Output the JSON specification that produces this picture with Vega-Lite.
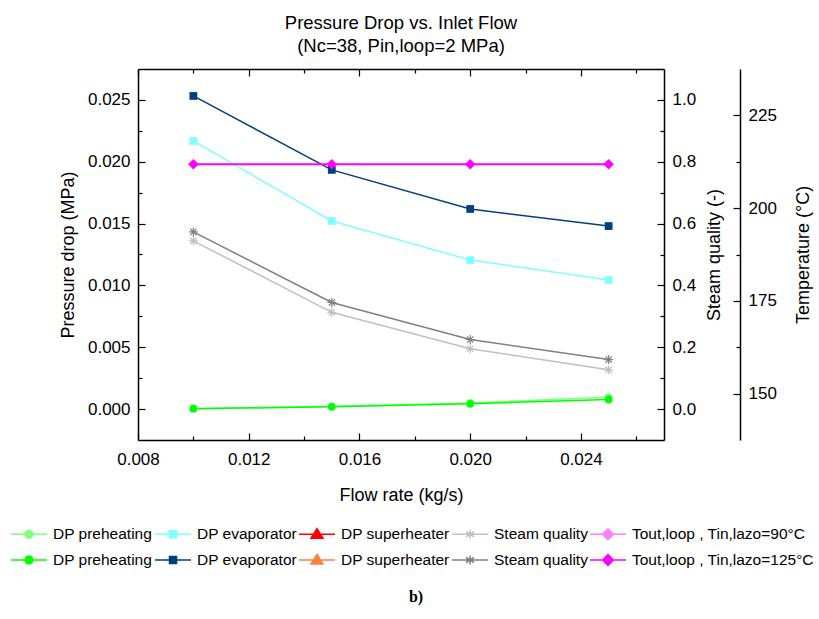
{
  "$schema": "https://vega.github.io/schema/vega-lite/v6.json",
  "autosize": "none",
  "padding": {"left": 138, "top": 69, "right": 155, "bottom": 179},
  "width": 526,
  "height": 371,
  "background": "white",
  "title": {
    "text": "Pressure Drop vs. Inlet Flow",
    "subtitle": "(Nc=38, Pin,loop=2 MPa)",
    "anchor": "middle",
    "font": "Liberation Sans",
    "fontSize": 18.5,
    "fontWeight": "normal",
    "subtitleFont": "Liberation Sans",
    "subtitleFontSize": 18.5,
    "subtitleColor": "black",
    "subtitlePadding": 4,
    "offset": 13,
    "color": "black"
  },
  "config": {
    "view": {"stroke": null},
    "axis": {
      "labelFont": "Liberation Sans",
      "labelFontSize": 17,
      "labelColor": "black",
      "titleFont": "Liberation Sans",
      "titleFontSize": 18,
      "titleFontWeight": "normal",
      "titleColor": "black",
      "domainColor": "black",
      "domainWidth": 1.5,
      "tickColor": "black",
      "tickWidth": 1.2,
      "grid": false
    }
  },
  "data": {
    "values": [
      {"flow": 0.010, "value": 0.00005, "series": "DP preheating|90", "group": "DP"},
      {"flow": 0.015, "value": 0.00022, "series": "DP preheating|90", "group": "DP"},
      {"flow": 0.020, "value": 0.00050, "series": "DP preheating|90", "group": "DP"},
      {"flow": 0.025, "value": 0.00096, "series": "DP preheating|90", "group": "DP"},
      {"flow": 0.010, "value": 0.00003, "series": "DP preheating|125", "group": "DP"},
      {"flow": 0.015, "value": 0.00018, "series": "DP preheating|125", "group": "DP"},
      {"flow": 0.020, "value": 0.00043, "series": "DP preheating|125", "group": "DP"},
      {"flow": 0.025, "value": 0.00078, "series": "DP preheating|125", "group": "DP"},
      {"flow": 0.010, "value": 0.02168, "series": "DP evaporator|90", "group": "DP"},
      {"flow": 0.015, "value": 0.01521, "series": "DP evaporator|90", "group": "DP"},
      {"flow": 0.020, "value": 0.01205, "series": "DP evaporator|90", "group": "DP"},
      {"flow": 0.025, "value": 0.01044, "series": "DP evaporator|90", "group": "DP"},
      {"flow": 0.010, "value": 0.02532, "series": "DP evaporator|125", "group": "DP"},
      {"flow": 0.015, "value": 0.01934, "series": "DP evaporator|125", "group": "DP"},
      {"flow": 0.020, "value": 0.01618, "series": "DP evaporator|125", "group": "DP"},
      {"flow": 0.025, "value": 0.01480, "series": "DP evaporator|125", "group": "DP"},
      {"flow": 0.010, "value": 0.544, "series": "Steam quality|90", "group": "SQ"},
      {"flow": 0.015, "value": 0.313, "series": "Steam quality|90", "group": "SQ"},
      {"flow": 0.020, "value": 0.195, "series": "Steam quality|90", "group": "SQ"},
      {"flow": 0.025, "value": 0.127, "series": "Steam quality|90", "group": "SQ"},
      {"flow": 0.010, "value": 0.573, "series": "Steam quality|125", "group": "SQ"},
      {"flow": 0.015, "value": 0.345, "series": "Steam quality|125", "group": "SQ"},
      {"flow": 0.020, "value": 0.225, "series": "Steam quality|125", "group": "SQ"},
      {"flow": 0.025, "value": 0.160, "series": "Steam quality|125", "group": "SQ"},
      {"flow": 0.010, "value": 211.8, "series": "Tout,loop , Tin,lazo=125°C|125", "group": "T"},
      {"flow": 0.015, "value": 211.8, "series": "Tout,loop , Tin,lazo=125°C|125", "group": "T"},
      {"flow": 0.020, "value": 211.8, "series": "Tout,loop , Tin,lazo=125°C|125", "group": "T"},
      {"flow": 0.025, "value": 211.8, "series": "Tout,loop , Tin,lazo=125°C|125", "group": "T"}
    ]
  },
  "resolve": {"scale": {"y": "independent"}, "axis": {"x": "independent"}},
  "layer": [
    {
      "transform": [{"filter": "datum.group === 'DP'"}],
      "encoding": {
        "x": {
          "field": "flow", "type": "quantitative",
          "scale": {"domain": [0.008, 0.027], "nice": false, "zero": false},
          "axis": {
            "title": "Flow rate (kg/s)",
            "orient": "bottom",
            "values": [0.008, 0.010, 0.012, 0.014, 0.016, 0.018, 0.020, 0.022, 0.024, 0.026],
            "labelExpr": "abs(datum.value*250 - round(datum.value*250)) < 0.001 ? format(datum.value, '.3f') : ''",
            "tickSize": {"condition": {"test": "abs(datum.value*250 - round(datum.value*250)) < 0.001", "value": -7}, "value": -4},
            "labelPadding": 18,
            "titlePadding": 19,
            "labelFlush": false
          }
        },
        "y": {
          "field": "value", "type": "quantitative",
          "scale": {"domain": [-0.0025, 0.0275], "nice": false, "zero": false},
          "axis": {
            "title": "Pressure drop (MPa)",
            "orient": "left",
            "values": [0, 0.0025, 0.005, 0.0075, 0.01, 0.0125, 0.015, 0.0175, 0.02, 0.0225, 0.025],
            "labelExpr": "abs(datum.value*200 - round(datum.value*200)) < 0.001 ? format(datum.value, '.3f') : ''",
            "tickSize": {"condition": {"test": "abs(datum.value*200 - round(datum.value*200)) < 0.001", "value": -7}, "value": -4},
            "labelPadding": 15,
            "titlePadding": 10
          }
        },
        "color": {
          "field": "series", "type": "nominal",
          "scale": {
            "domain": ["DP preheating|90", "DP evaporator|90", "DP superheater|90", "Steam quality|90", "Tout,loop , Tin,lazo=90°C|90", "DP preheating|125", "DP evaporator|125", "DP superheater|125", "Steam quality|125", "Tout,loop , Tin,lazo=125°C|125"],
            "range": ["#80ff80", "#80ffff", "#ff0000", "#c0c0c0", "#ff80ff", "#00ff00", "#003f80", "#ff8040", "#808080", "#ff00ff"]
          },
          "legend": {
            "orient": "none",
            "legendX": -120,
            "legendY": 454,
            "direction": "horizontal",
            "columns": 5,
            "gridAlign": "each",
            "padding": 0,
            "symbolSize": 400,
            "symbolStrokeWidth": 1.5,
            "labelOffset": 13,
            "columnPadding": -1,
            "rowPadding": 6,
            "labelFont": "Liberation Sans",
            "labelFontSize": 15.5,
            "labelColor": "black",
            "labelLimit": 400,
            "labelExpr": "split(datum.value, '|')[0]",
            "title": "b)",
            "titleOrient": "bottom",
            "titleAnchor": "middle",
            "titleFont": "Liberation Serif",
            "titleFontSize": 16,
            "titleFontWeight": "bold",
            "titleColor": "black",
            "titlePadding": 20,
            "encode": {
              "symbols": {
                "update": {
                  "shape": {"signal": "indexof(datum.value,'preheating')>=0 ? 'M-1.8,0H1.8M0.4,0A0.4,0.4,0,1,1,-0.4,0A0.4,0.4,0,1,1,0.4,0Z' : indexof(datum.value,'evaporator')>=0 ? 'M-1.8,0H1.8M-0.35,-0.35H0.35V0.35H-0.35Z' : indexof(datum.value,'superheater')>=0 ? 'M-1.8,0H1.8M0,-0.55L0.6,0.4H-0.6Z' : indexof(datum.value,'Steam')>=0 ? 'M-1.8,0H1.8M0,-0.45V0.45M-0.4,-0.25L0.4,0.25M-0.4,0.25L0.4,-0.25' : 'M-1.8,0H1.8M0,-0.55L0.55,0L0,0.55L-0.55,0Z'"},
                  "stroke": {"signal": "scale('color', datum.value)"},
                  "fill": {"signal": "scale('color', datum.value)"},
                  "strokeWidth": {"value": 1.5},
                  "opacity": {"value": 1}
                }
              }
            }
          }
        }
      },
      "layer": [
        {"mark": {"type": "line", "strokeWidth": 1.5}},
        {
          "mark": {"type": "point", "filled": true, "size": 60, "opacity": 1},
          "encoding": {
            "shape": {
              "field": "series", "type": "nominal",
              "scale": {
                "domain": ["DP preheating|90", "DP preheating|125", "DP evaporator|90", "DP evaporator|125"],
                "range": ["circle", "circle", "square", "square"]
              },
              "legend": null
            }
          }
        }
      ]
    },
    {
      "transform": [{"filter": "datum.group === 'SQ'"}],
      "encoding": {
        "x": {"field": "flow", "type": "quantitative", "axis": null},
        "y": {
          "field": "value", "type": "quantitative",
          "scale": {"domain": [-0.1, 1.1], "nice": false, "zero": false},
          "axis": {
            "title": "Steam quality (-)",
            "orient": "right",
            "values": [0, 0.1, 0.2, 0.3, 0.4, 0.5, 0.6, 0.7, 0.8, 0.9, 1.0],
            "labelExpr": "abs(datum.value*5 - round(datum.value*5)) < 0.001 ? format(datum.value, '.1f') : ''",
            "tickSize": {"condition": {"test": "abs(datum.value*5 - round(datum.value*5)) < 0.001", "value": -7}, "value": -4},
            "labelPadding": 15,
            "titleAngle": -90,
            "titleBaseline": "top",
            "titlePadding": 10
          }
        },
        "color": {"field": "series", "type": "nominal"}
      },
      "layer": [
        {"mark": {"type": "line", "strokeWidth": 1.5}},
        {"mark": {"type": "point", "filled": false, "size": 81, "strokeWidth": 1.2, "opacity": 1, "shape": "M0,-1V1M-1,0H1M-0.7,-0.7L0.7,0.7M-0.7,0.7L0.7,-0.7"}}
      ]
    },
    {
      "transform": [{"filter": "datum.group === 'T'"}],
      "encoding": {
        "x": {
          "field": "flow", "type": "quantitative",
          "axis": {
            "orient": "top",
            "title": null,
            "labels": false,
            "values": [0.008, 0.010, 0.012, 0.014, 0.016, 0.018, 0.020, 0.022, 0.024, 0.026],
            "tickSize": {"condition": {"test": "abs(datum.value*250 - round(datum.value*250)) < 0.001", "value": -7}, "value": -4}
          }
        },
        "y": {
          "field": "value", "type": "quantitative",
          "scale": {"domain": [137.5, 237.5], "nice": false, "zero": false},
          "axis": {
            "title": "Temperature (°C)",
            "orient": "right",
            "offset": 76,
            "values": [150, 162.5, 175, 187.5, 200, 212.5, 225],
            "labelExpr": "abs(datum.value/25 - round(datum.value/25)) < 0.001 ? format(datum.value, 'd') : ''",
            "tickSize": {"condition": {"test": "abs(datum.value/25 - round(datum.value/25)) < 0.001", "value": -7}, "value": -4},
            "labelPadding": 15,
            "titleAngle": -90,
            "titleBaseline": "top",
            "titlePadding": 18
          }
        },
        "color": {"field": "series", "type": "nominal"}
      },
      "layer": [
        {"mark": {"type": "line", "strokeWidth": 2}},
        {"mark": {"type": "point", "filled": true, "size": 110, "shape": "diamond", "opacity": 1}}
      ]
    }
  ]
}
